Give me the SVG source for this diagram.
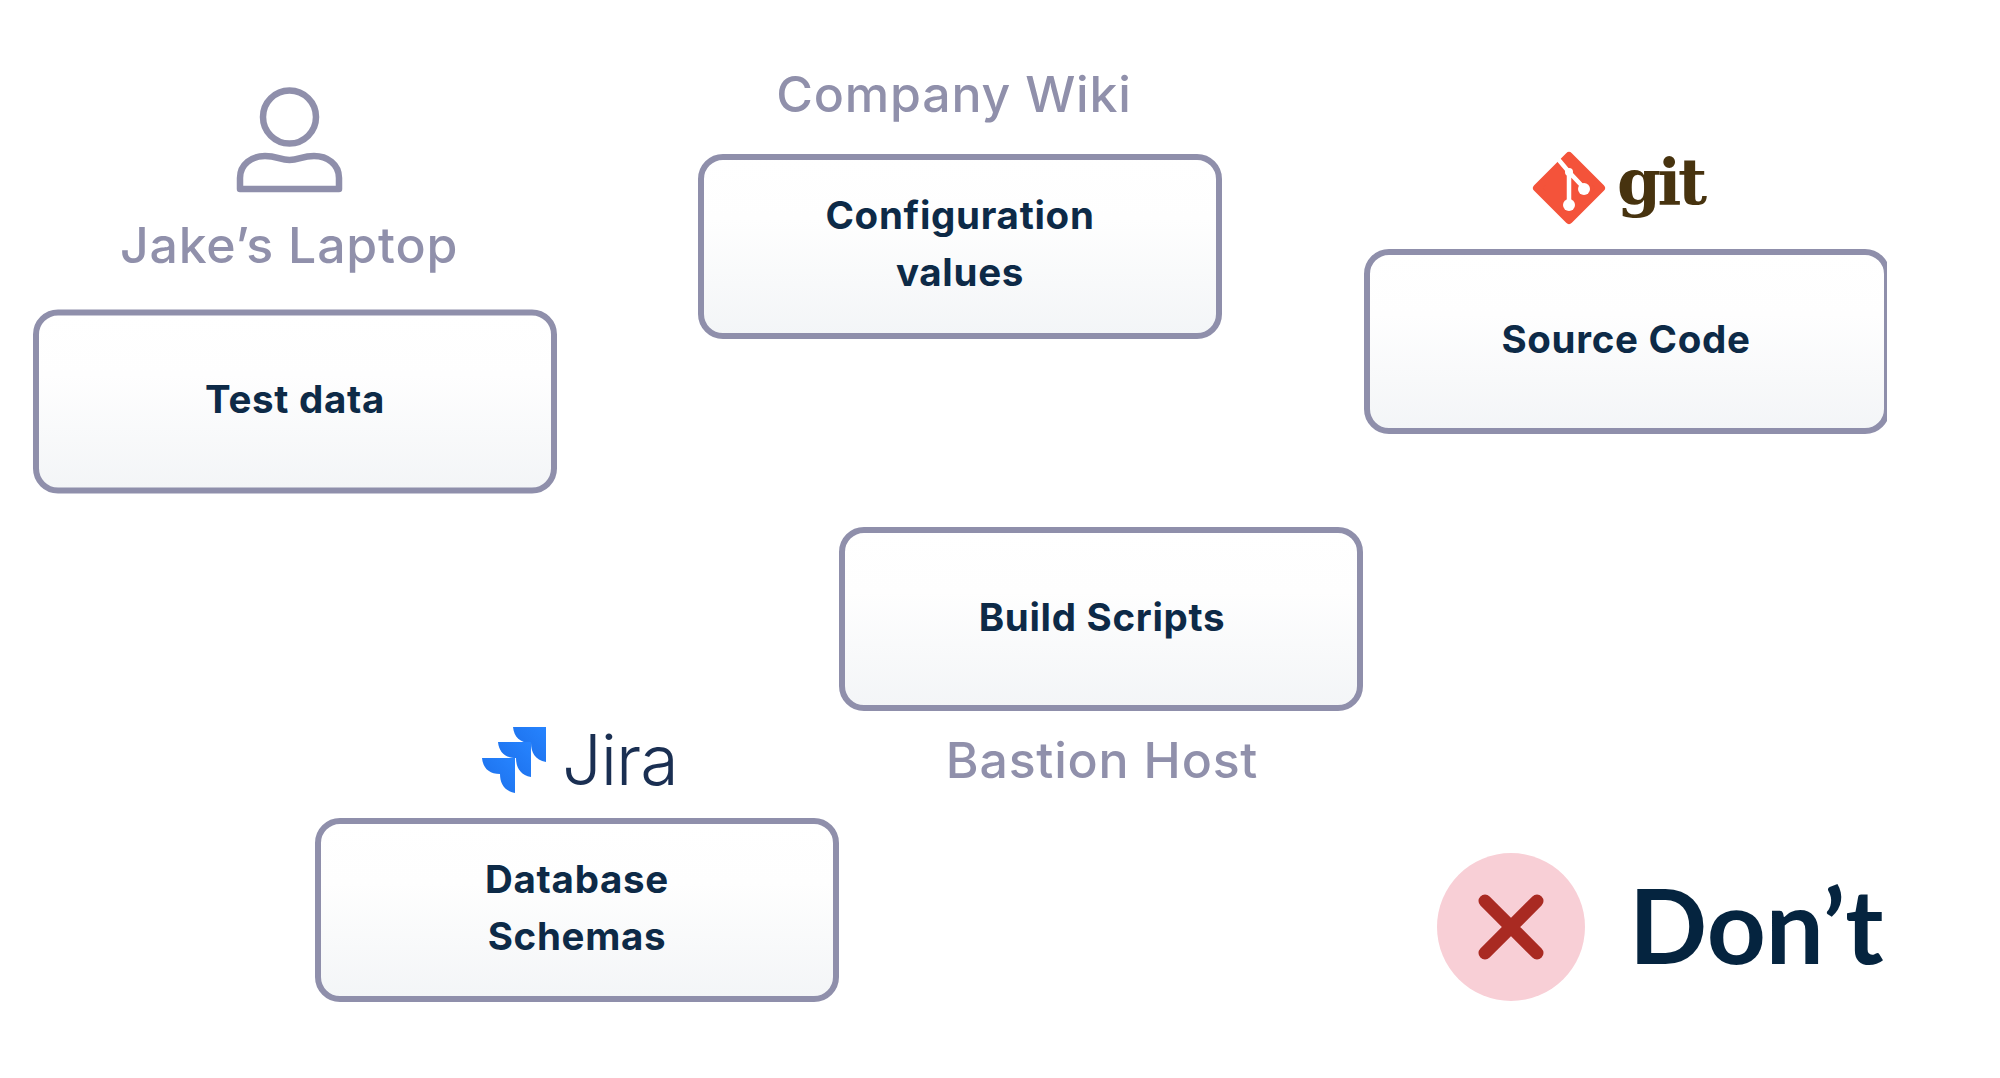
<svg xmlns="http://www.w3.org/2000/svg" width="2000" height="1078" viewBox="0 0 2000 1078">
<style>
.box{fill:url(#bg);stroke:#8f8fab;stroke-width:6}
.t{font-family:Inter,Lato,sans-serif;font-weight:700;font-size:38.500px;letter-spacing:0.700px;fill:#0d2a47;text-anchor:middle}
.h{font-family:Inter,Lato,sans-serif;font-weight:500;font-size:50px;letter-spacing:0.800px;fill:#9090ab;text-anchor:middle}
</style>
<defs>
<linearGradient id="bg" x1="0" y1="0" x2="0" y2="1"><stop offset="0" stop-color="#fff"/><stop offset="0.35" stop-color="#fefefe"/><stop offset="1" stop-color="#f3f5f7"/></linearGradient>
<linearGradient id="jb" x1="1" y1="0" x2="0" y2="1"><stop offset="0" stop-color="#2684ff"/><stop offset="0.55" stop-color="#2077f2"/><stop offset="1" stop-color="#0c55cc"/></linearGradient>
<clipPath id="cl"><rect x="1300" y="200" width="587" height="300"/></clipPath>
<path id="tile" d="M513 727H546V762C535 760 531 752 531 743C520 743 514 737 513 727Z" fill="url(#jb)"/>
</defs>
<rect width="2000" height="1078" fill="#fff"/>
<g id="connectors"/>
<g id="jakes-laptop">
<circle cx="289.500" cy="117" r="26.500" fill="none" stroke="#8f8fab" stroke-width="6.500"/>
<path d="M240 189V178C240 164 252 156 265 156C277 156 280 160 289.500 160C299 160 302 156 314 156C327 156 339 164 339 178V189Z" fill="none" stroke="#8f8fab" stroke-width="6.500" stroke-linejoin="round"/>
<text class="h" x="289" y="263">Jake’s Laptop</text>
</g>
<g id="test-data"><rect class="box" x="36" y="312.500" width="518" height="178" rx="22"/><text class="t" x="295" y="413">Test data</text></g>
<g id="company-wiki"><text class="h" x="954" y="112">Company Wiki</text></g>
<g id="configuration-values"><rect class="box" x="701" y="157" width="518" height="179" rx="22"/><text class="t" x="960" y="229">Configuration</text><text class="t" x="960" y="286">values</text></g>
<g id="git">
<path d="M1569 156L1601 188L1569 220L1537 188Z" fill="#f4533a" stroke="#f4533a" stroke-width="8" stroke-linejoin="round"/>
<path d="M1558 159L1569 172V204M1569 172L1584 188" fill="none" stroke="#fff" stroke-width="4.500"/>
<circle cx="1569" cy="205" r="6" fill="#fff"/><circle cx="1584" cy="189" r="6" fill="#fff"/><circle cx="1569" cy="172" r="4" fill="#fff"/>
<text x="1617" y="204" font-family="'DejaVu Serif',serif" font-weight="700" font-size="63" letter-spacing="-3.500" fill="#47330f">git</text>
</g>
<g id="source-code"><g clip-path="url(#cl)"><rect class="box" x="1367" y="252" width="520" height="179" rx="22"/></g><text class="t" x="1626" y="353">Source Code</text></g>
<g id="bastion-host"><text class="h" x="1102" y="778">Bastion Host</text></g>
<g id="build-scripts"><rect class="box" x="842" y="530" width="518" height="178" rx="22"/><text class="t" x="1102" y="631">Build Scripts</text></g>
<g id="jira">
<use href="#tile"/>
<use href="#tile" transform="translate(-15 15)"/>
<use href="#tile" transform="translate(-31 31)"/>
<text x="562" y="785" font-family="Inter,Lato,sans-serif" font-weight="300" font-size="70" letter-spacing="-1" fill="#1a2f52">Jira</text>
</g>
<g id="database-schemas"><rect class="box" x="318" y="821" width="518" height="178" rx="22"/><text class="t" x="577" y="893">Database</text><text class="t" x="577" y="950">Schemas</text></g>
<g id="dont">
<circle cx="1511" cy="927" r="74" fill="#f8cfd6"/>
<path d="M1485 901L1537 953M1537 901L1485 953" stroke="#a92a22" stroke-width="13" stroke-linecap="round"/>
<text x="1629" y="964" font-family="Lato,sans-serif" font-weight="700" font-size="103" fill="#05243f">Don’t</text>
</g>
</svg>
